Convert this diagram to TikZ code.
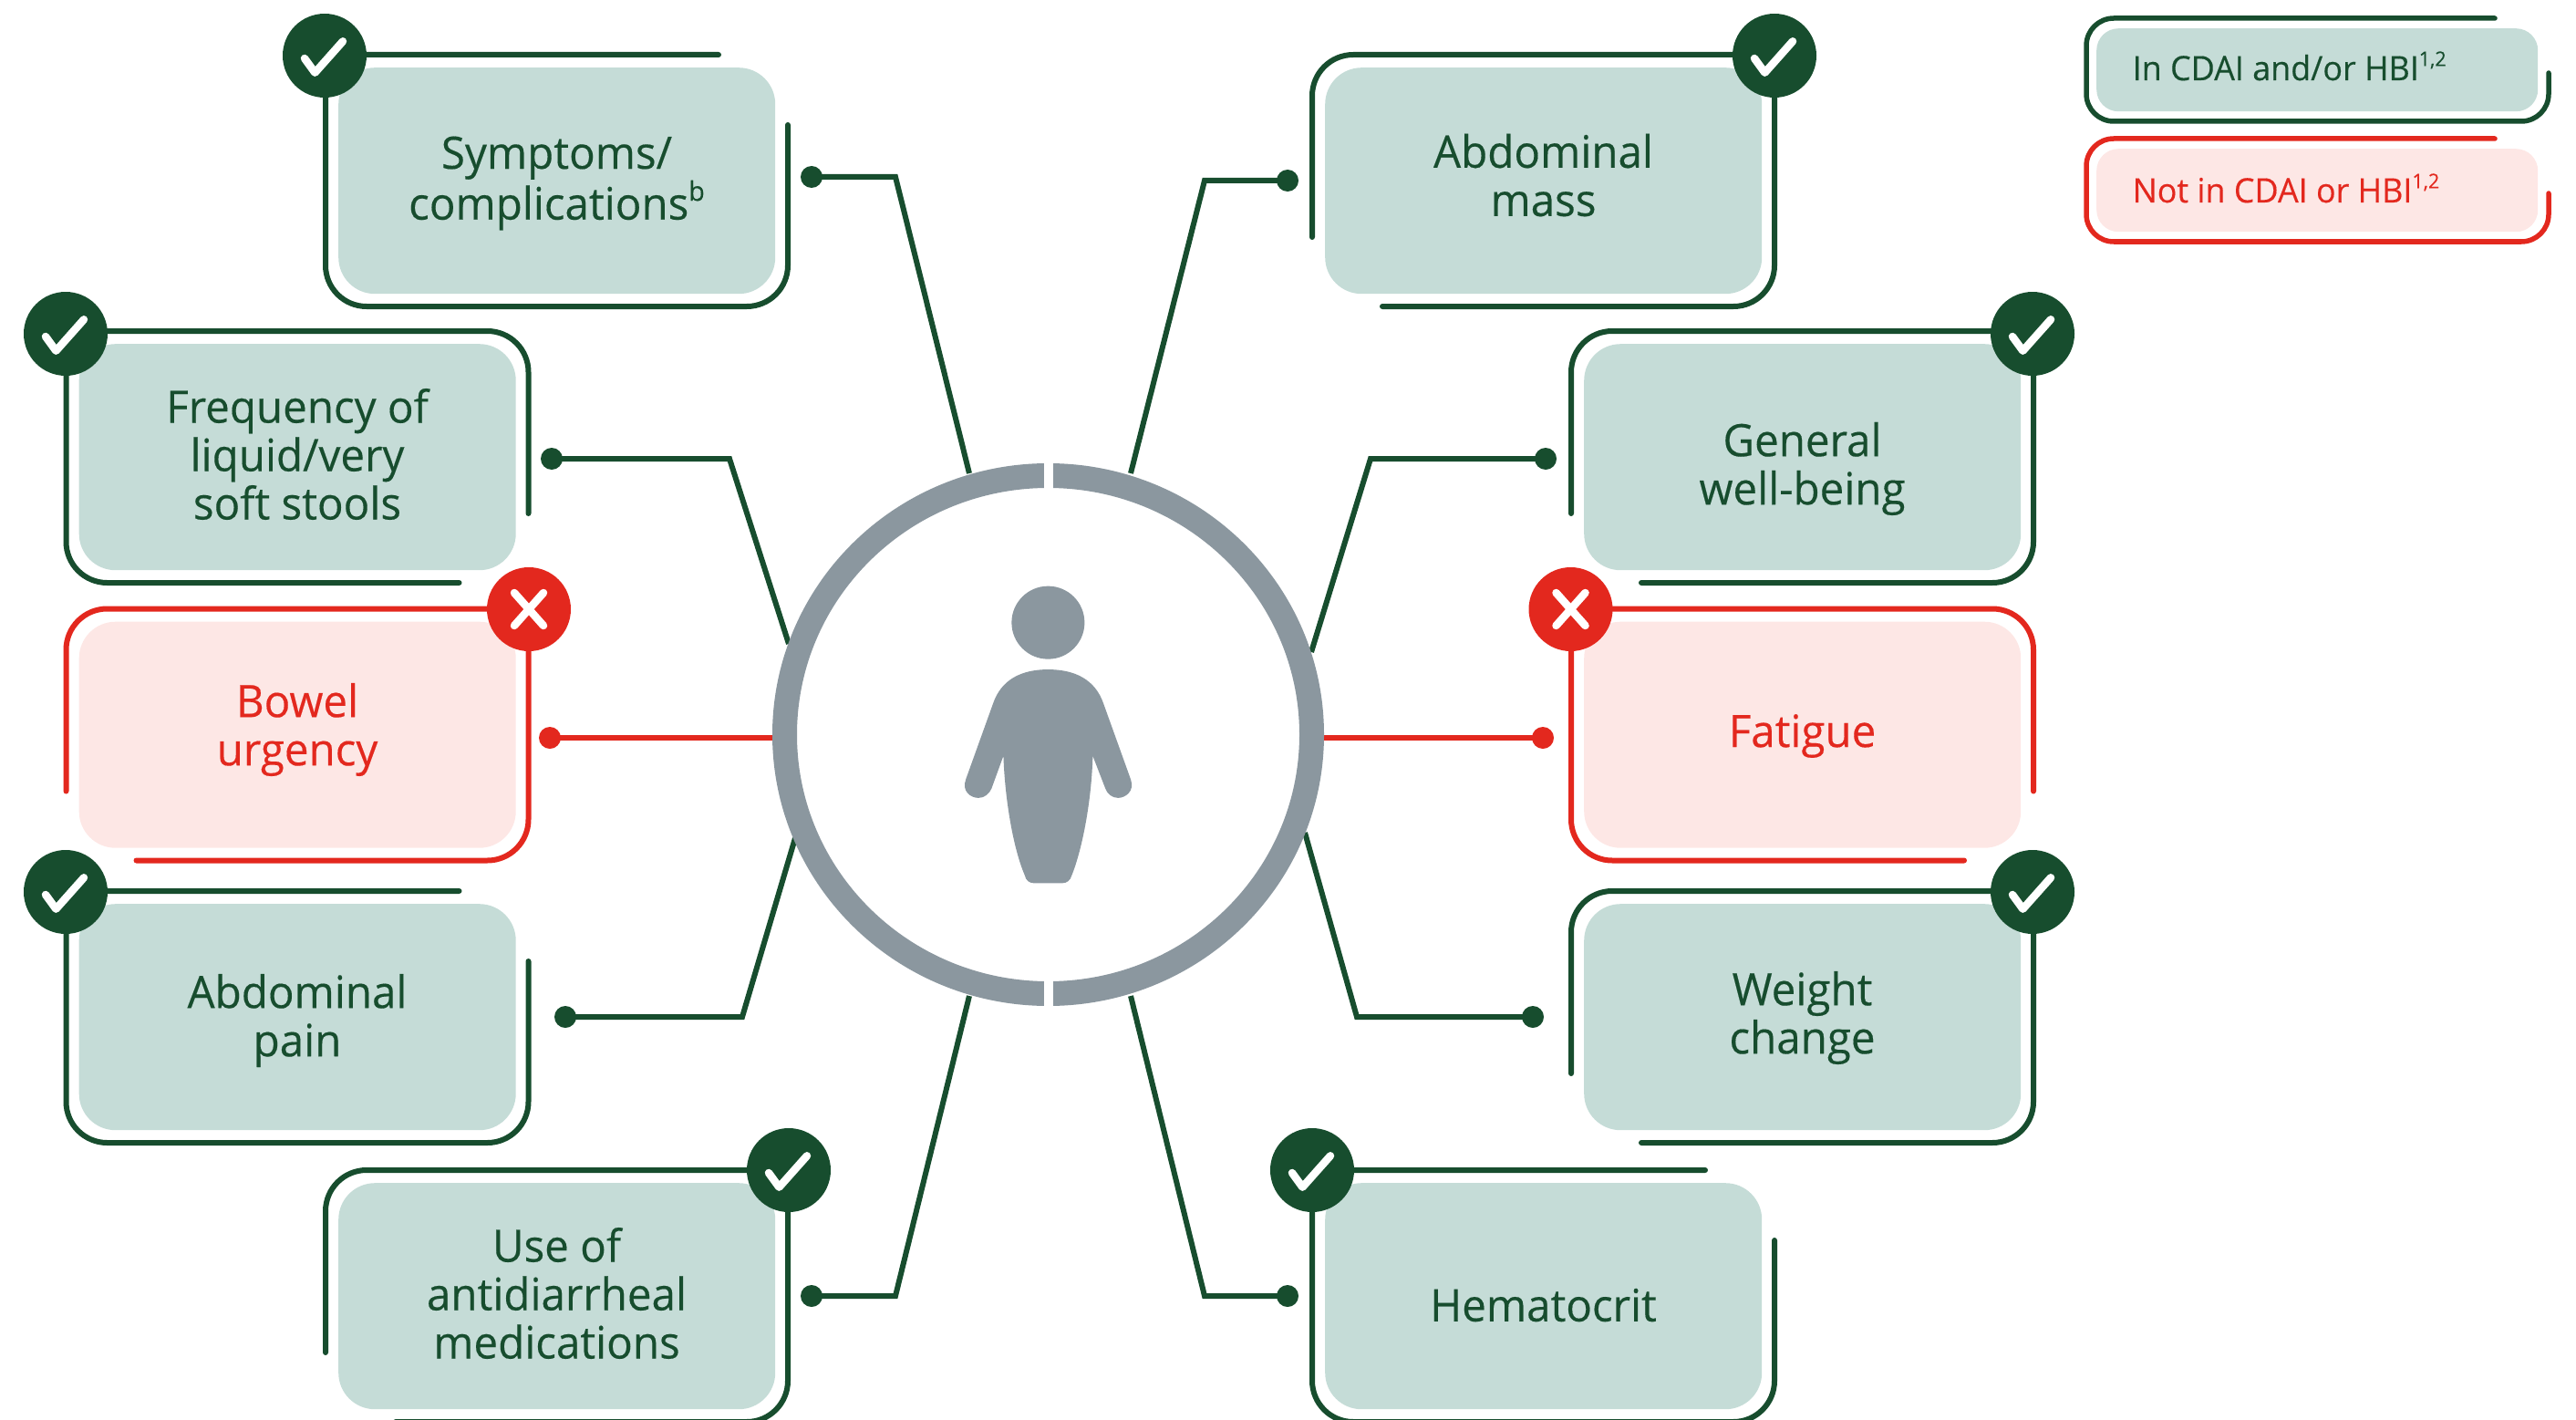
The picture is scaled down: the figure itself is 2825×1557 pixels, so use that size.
\documentclass[tikz,border=0pt]{standalone}
\usepackage{fontspec}
\usetikzlibrary{shapes.geometric}
\newfontfamily\lblfont[FakeStretch=0.97,FakeBold=0.3]{Open Sans}
\definecolor{dgreen}{HTML}{174D2E}
\definecolor{lgreen}{HTML}{C5DCD7}
\definecolor{dred}{HTML}{E3281E}
\definecolor{lred}{HTML}{FDE7E5}
\definecolor{ringgray}{HTML}{8B979F}
\tikzset{
  outl/.style={line width=6pt,line cap=round,line join=round,rounded corners=45pt},
  lgoutl/.style={line width=5.5pt,line cap=round,line join=round,rounded corners=30pt},
  fbox/.style={rounded corners=40pt,minimum width=479pt,minimum height=248pt,inner sep=0pt,anchor=north west},
  lgbox/.style={rounded corners=24pt,minimum width=484pt,minimum height=91pt,inner sep=0pt,anchor=north west},
  badge/.style={circle,minimum size=92pt,inner sep=0pt},
  dotn/.style={circle,minimum size=24pt,inner sep=0pt},
  conn/.style={line width=6pt,line join=miter},
  tickm/.style={draw=white,line width=8.5pt,line cap=round,line join=round},
  boxtext/.style={align=center,inner sep=0pt,font=\lblfont\fontsize{49}{53}\selectfont},
  lgtext/.style={anchor=base west,inner sep=0pt,font=\lblfont\fontsize{37}{40}\selectfont}
}
% outline with the gap at top right
\newcommand\gapTR[3]{\draw[outl,#1] ({#2+417},{#3-14}) -- ({#2-14},{#3-14}) -- ({#2-14},{#3+262}) -- ({#2+493},{#3+262}) -- ({#2+493},{#3+63});}
% outline with the gap at bottom right
\newcommand\gapBR[3]{\draw[outl,#1] ({#2+417},{#3+262}) -- ({#2-14},{#3+262}) -- ({#2-14},{#3-14}) -- ({#2+493},{#3-14}) -- ({#2+493},{#3+186});}
% outline with the gap at bottom left
\newcommand\gapBL[3]{\draw[outl,#1] ({#2-14},{#3+186}) -- ({#2-14},{#3-14}) -- ({#2+493},{#3-14}) -- ({#2+493},{#3+262}) -- ({#2+63},{#3+262});}
\newcommand\okbadge[3]{\node[badge,fill=dgreen] (#1) at (#2,#3) {};
  \draw[tickm] ({#2-22},{#3+3}) -- ({#2-10.6},{#3+18.7}) -- ({#2+20},{#3-15.7});}
\newcommand\nobadge[3]{\node[badge,fill=dred] (#1) at (#2,#3) {};
  \draw[tickm] ({#2-16},{#3-18}) -- ({#2+16},{#3+18}) ({#2+16},{#3-18}) -- ({#2-16},{#3+18});}
\newcommand\supt[1]{\raisebox{0.42em}{\fontsize{0.6em}{0.6em}\selectfont #1}}
\begin{document}
\begin{tikzpicture}[x=1pt,y=-1pt]
\useasboundingbox (0,0) rectangle (2825,1557);
% connectors
\node[dotn,fill=dgreen] (dA) at (890,194) {};
\coordinate (jA) at (982,194); \coordinate (rA) at (1063,519);
\draw[conn,dgreen] (dA.center) -- (jA) -- (rA);
\node[dotn,fill=dgreen] (dB) at (605,503) {};
\coordinate (jB) at (800,503); \coordinate (rB) at (865,706);
\draw[conn,dgreen] (dB.center) -- (jB) -- (rB);
\node[dotn,fill=dred] (dC) at (603,809) {};
\coordinate (rC) at (852,809);
\draw[conn,dred] (dC.center) -- (rC);
\node[dotn,fill=dgreen] (dD) at (620,1115) {};
\coordinate (jD) at (814,1115); \coordinate (rD) at (872,919);
\draw[conn,dgreen] (dD.center) -- (jD) -- (rD);
\node[dotn,fill=dgreen] (dE) at (890,1421) {};
\coordinate (jE) at (982,1421); \coordinate (rE) at (1063,1092);
\draw[conn,dgreen] (dE.center) -- (jE) -- (rE);
\node[dotn,fill=dgreen] (dF) at (1412,198) {};
\coordinate (jF) at (1321,198); \coordinate (rF) at (1240,519);
\draw[conn,dgreen] (dF.center) -- (jF) -- (rF);
\node[dotn,fill=dgreen] (dG) at (1695,503) {};
\coordinate (jG) at (1503,503); \coordinate (rG) at (1438,715);
\draw[conn,dgreen] (dG.center) -- (jG) -- (rG);
\node[dotn,fill=dred] (dH) at (1692,809) {};
\coordinate (rH) at (1448,809);
\draw[conn,dred] (dH.center) -- (rH);
\node[dotn,fill=dgreen] (dI) at (1681,1115) {};
\coordinate (jI) at (1488,1115); \coordinate (rI) at (1431,913);
\draw[conn,dgreen] (dI.center) -- (jI) -- (rI);
\node[dotn,fill=dgreen] (dJ) at (1412,1421) {};
\coordinate (jJ) at (1321,1421); \coordinate (rJ) at (1240,1092);
\draw[conn,dgreen] (dJ.center) -- (jJ) -- (rJ);
% ring
\node[ellipse,draw=ringgray,fill=white,line width=27pt,minimum width=578pt,minimum height=568pt,inner sep=0pt] (ring) at (1149.5,805.5) {};
\fill[white] (1144.5,495) rectangle (1155,545);
\fill[white] (1144.5,1065) rectangle (1155,1115);
% person
\begin{scope}[shift={(840,490)},x=0.40816pt,y=-0.40816pt]
\fill[ringgray] (758,472) circle [radius=98];
\fill[ringgray] (758,598) .. controls (830,598) and (885,625) .. (907,690) -- (980,893)
 .. controls (992,925) and (965,943) .. (946,943) .. controls (930,943) and (917,932) .. (912,918)
 -- (878,830) .. controls (875,950) and (850,1080) .. (822,1150) .. controls (818,1165) and (808,1172) .. (796,1172)
 -- (720,1172) .. controls (708,1172) and (698,1165) .. (695,1150) .. controls (665,1080) and (642,950) .. (638,830)
 -- (606,918) .. controls (600,932) and (587,943) .. (571,943) .. controls (550,943) and (525,925) .. (537,893)
 -- (610,690) .. controls (632,625) and (686,598) .. (758,598) -- cycle;
\end{scope}
% boxes: outline, fill
\gapTR{dgreen}{371}{74}   \node[fbox,fill=lgreen] (bA) at (371,74) {};
\gapBR{dgreen}{86.5}{377} \node[fbox,fill=lgreen] (bB) at (86.5,377) {};
\gapBL{dred}{86.5}{681.5} \node[fbox,fill=lred]   (bC) at (86.5,681.5) {};
\gapTR{dgreen}{86.5}{991} \node[fbox,fill=lgreen] (bD) at (86.5,991) {};
\gapBL{dgreen}{371}{1297} \node[fbox,fill=lgreen] (bE) at (371,1297) {};
\gapBL{dgreen}{1453}{74}  \node[fbox,fill=lgreen] (bF) at (1453,74) {};
\gapBL{dgreen}{1737}{377} \node[fbox,fill=lgreen] (bG) at (1737,377) {};
\gapBR{dred}{1737}{681.5} \node[fbox,fill=lred]   (bH) at (1737,681.5) {};
\gapBL{dgreen}{1737}{991} \node[fbox,fill=lgreen] (bI) at (1737,991) {};
\gapTR{dgreen}{1453}{1297} \node[fbox,fill=lgreen] (bJ) at (1453,1297) {};
% badges
\okbadge{kA}{356}{61}
\okbadge{kB}{72}{366}
\nobadge{kC}{580}{668}
\okbadge{kD}{72}{978}
\okbadge{kE}{865}{1283}
\okbadge{kF}{1946}{61}
\okbadge{kG}{2229}{366}
\nobadge{kH}{1722.5}{668}
\okbadge{kI}{2229}{978}
\okbadge{kJ}{1439}{1283}
% labels
\node[boxtext,text=dgreen] (tA) at (610.5,201) {Symptoms/\\complications\supt{b}};
\node[boxtext,text=dgreen] (tB) at (326,498) {Frequency of\\liquid/very\\soft stools};
\node[boxtext,text=dred] (tC) at (326,800) {Bowel\\urgency};
\node[boxtext,text=dgreen] (tD) at (326,1119) {Abdominal\\pain};
\node[boxtext,text=dgreen] (tE) at (610.5,1418) {Use of\\antidiarrheal\\medications};
\node[boxtext,text=dgreen] (tF) at (1692.5,192) {Abdominal\\mass};
\node[boxtext,text=dgreen] (tG) at (1976.5,514) {General\\well-being};
\node[boxtext,text=dred] (tH) at (1976.5,807) {Fatigue};
\node[boxtext,text=dgreen] (tI) at (1976.5,1116) {Weight\\change};
\node[boxtext,text=dgreen] (tJ) at (1692.5,1431) {Hematocrit};
% legend
\draw[lgoutl,dgreen] (2736,20) -- (2288,20) -- (2288,133) -- (2795,133) -- (2795,80);
\node[lgbox,fill=lgreen] (lgA) at (2299,31) {};
\node[lgtext,text=dgreen] (ltA) at (2338.5,88) {In CDAI and/or HBI\supt{1,2}};
\draw[lgoutl,dred] (2736,152) -- (2288,152) -- (2288,265) -- (2795,265) -- (2795,212);
\node[lgbox,fill=lred] (lgB) at (2299,163) {};
\node[lgtext,text=dred] (ltB) at (2338.5,222) {Not in CDAI or HBI\supt{1,2}};
\end{tikzpicture}
\end{document}
